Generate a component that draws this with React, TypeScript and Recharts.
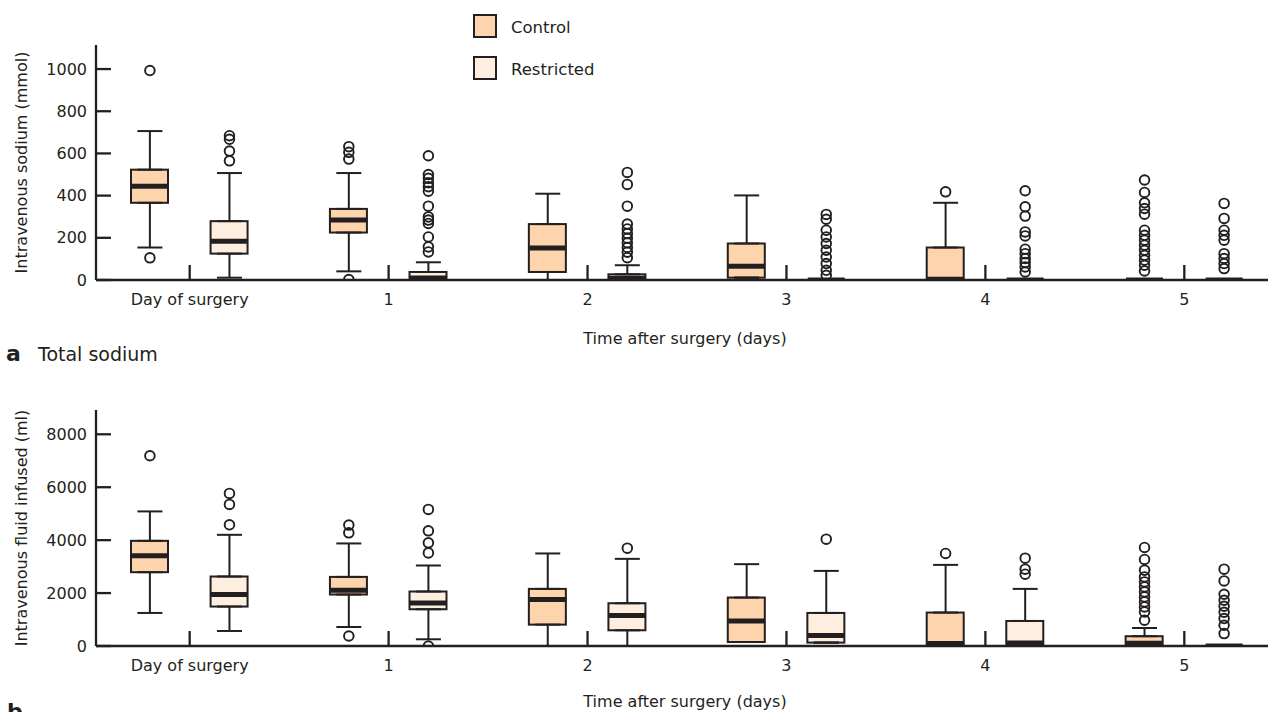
import React from "react";
import { ComposedChart, Bar, Scatter, ErrorBar, XAxis, YAxis } from "recharts";

const ink = "#231f20";
const controlFill = "#fdd4ab";
const restrictedFill = "#feeee0";

const dayLabels = ["Day of surgery", "1", "2", "3", "4", "5"];
const sodiumTicks = [0, 200, 400, 600, 800, 1000];
const fluidTicks = [0, 2000, 4000, 6000, 8000];

// panel a: intravenous sodium (mmol)
const sodiumControlLow = [154, 41, 0, 11, 0, 0];
const sodiumControlQ1 = [366, 225, 38, 11, 0, 0];
const sodiumControlMedian = [445, 284, 152, 65, 4, 0];
const sodiumControlQ3 = [523, 337, 265, 173, 154, 0];
const sodiumControlHigh = [706, 507, 409, 401, 366, 0];
const sodiumControlOutliers = [
  [993, 105],
  [632, 605, 573, 2],
  [],
  [],
  [418],
  [474, 415, 366, 339, 312, 236, 212, 189, 165, 141, 117, 94, 70, 43],
];

const sodiumRestrictedLow = [11, 0, 0, 0, 0, 0];
const sodiumRestrictedQ1 = [125, 0, 0, 0, 0, 0];
const sodiumRestrictedMedian = [184, 10, 8, 0, 0, 0];
const sodiumRestrictedQ3 = [279, 38, 27, 0, 0, 0];
const sodiumRestrictedHigh = [507, 84, 70, 0, 0, 0];
const sodiumRestrictedOutliers = [
  [684, 667, 611, 565],
  [589, 500, 482, 461, 442, 421, 350, 299, 284, 268, 204, 157, 133],
  [510, 453, 350, 265, 242, 220, 198, 176, 154, 132, 106],
  [311, 288, 236, 204, 173, 141, 109, 78, 46, 22],
  [423, 347, 303, 228, 209, 146, 125, 102, 83, 62, 38],
  [363, 292, 236, 212, 189, 125, 102, 78, 54],
];

// panel b: intravenous fluid infused (ml)
const fluidControlLow = [1249, 719, 0, 151, 0, 0];
const fluidControlQ1 = [2789, 1945, 808, 151, 0, 0];
const fluidControlMedian = [3406, 2108, 1755, 946, 90, 100];
const fluidControlQ3 = [3974, 2611, 2158, 1831, 1264, 370];
const fluidControlHigh = [5086, 3875, 3497, 3092, 3065, 681];
const fluidControlOutliers = [
  [7190],
  [4568, 4277, 378],
  [],
  [],
  [3497],
  [3724, 3270, 2865, 2611, 2422, 2233, 2043, 1854, 1665, 1476, 1287, 973],
];

const fluidRestrictedLow = [568, 254, 0, 128, 0, 0];
const fluidRestrictedQ1 = [1491, 1389, 594, 128, 0, 0];
const fluidRestrictedMedian = [1945, 1627, 1150, 394, 114, 0];
const fluidRestrictedQ3 = [2626, 2059, 1616, 1249, 946, 0];
const fluidRestrictedHigh = [4201, 3042, 3293, 2838, 2158, 0];
const fluidRestrictedOutliers = [
  [5767, 5351, 4580],
  [5162, 4352, 3898, 3519, 0],
  [3697],
  [4038],
  [3319, 2903, 2713],
  [2903, 2460, 1956, 1729, 1502, 1275, 1037, 783, 469],
];

type Stats = {
  low: number[];
  q1: number[];
  median: number[];
  q3: number[];
  high: number[];
  outliers: number[][];
};

// 5 category slots per day: control, day tick, restricted, gap, gap
const SLOTS = 28;

function buildRows(control: Stats, restricted: Stats) {
  const rows: any[] = [];
  for (let k = 0; k < SLOTS; k++) {
    const day = Math.floor(k / 5);
    const pos = k % 5;
    const s = pos === 0 ? control : pos === 2 ? restricted : null;
    const row: any = { slot: k, group: pos === 0 ? "control" : pos === 2 ? "restricted" : null };
    if (s) {
      row.box = [s.q1[day], s.q3[day]];
      row.q1 = s.q1[day];
      row.q3 = s.q3[day];
      row.median = s.median[day];
      row.upperErr = [0, s.high[day] - s.q3[day]];
      row.lowerErr = [s.q1[day] - s.low[day], 0];
      s.outliers[day].forEach((v, i) => {
        row["o" + i] = v;
      });
    }
    rows.push(row);
  }
  return rows;
}

const sodiumRows = buildRows(
  { low: sodiumControlLow, q1: sodiumControlQ1, median: sodiumControlMedian, q3: sodiumControlQ3, high: sodiumControlHigh, outliers: sodiumControlOutliers },
  { low: sodiumRestrictedLow, q1: sodiumRestrictedQ1, median: sodiumRestrictedMedian, q3: sodiumRestrictedQ3, high: sodiumRestrictedHigh, outliers: sodiumRestrictedOutliers }
);
const fluidRows = buildRows(
  { low: fluidControlLow, q1: fluidControlQ1, median: fluidControlMedian, q3: fluidControlQ3, high: fluidControlHigh, outliers: fluidControlOutliers },
  { low: fluidRestrictedLow, q1: fluidRestrictedQ1, median: fluidRestrictedMedian, q3: fluidRestrictedQ3, high: fluidRestrictedHigh, outliers: fluidRestrictedOutliers }
);

const maxOutliers = Math.max(
  ...[sodiumControlOutliers, sodiumRestrictedOutliers, fluidControlOutliers, fluidRestrictedOutliers].flat().map((o) => o.length)
);
const outlierKeys = Array.from({ length: maxOutliers }, (_, i) => "o" + i);

const ok = (v: any) => typeof v === "number" && isFinite(v);

function BoxShape(props: any) {
  const { x, y, width, height, payload } = props;
  if (!payload || !payload.box || !ok(x) || !ok(y) || !ok(height)) return <g />;
  const fill = payload.group === "control" ? controlFill : restrictedFill;
  const top = height < 0 ? y + height : y;
  return <rect x={x} y={top} width={width} height={Math.abs(height)} fill={fill} stroke={ink} strokeWidth={2} />;
}

function MedianMark({ cx, cy }: any) {
  if (!ok(cx) || !ok(cy)) return <g />;
  return <line x1={cx - 18.5} x2={cx + 18.5} y1={cy} y2={cy} stroke={ink} strokeWidth={5} />;
}

function OutlierMark({ cx, cy }: any) {
  if (!ok(cx) || !ok(cy)) return <g />;
  return <circle cx={cx} cy={cy} r={4.8} fill="none" stroke={ink} strokeWidth={1.9} />;
}

const Hidden = () => <g />;

function DayTick({ x, y, payload }: any) {
  const k = Number(payload.value);
  if (k % 5 !== 1) return <g />;
  return (
    <g>
      <line x1={x} x2={x} y1={y} y2={y - 15} stroke={ink} strokeWidth={2.3} />
      <text x={x} y={y + 25} textAnchor="middle" fill={ink} fontSize={16}>
        {dayLabels[(k - 1) / 5]}
      </text>
    </g>
  );
}

function Panel({ rows, top, marginTop, domainMax, ticks, yTitle, titleOffset }: any) {
  return (
    <div style={{ position: "absolute", left: 0, top }}>
      <ComposedChart width={1268} height={350} data={rows} margin={{ top: marginTop, right: 0, bottom: 0, left: 0 }}>
        <XAxis
          dataKey="slot"
          type="category"
          interval={0}
          padding={{ left: 34, right: 24 }}
          height={70}
          tickLine={false}
          tickSize={0}
          tickMargin={0}
          tick={<DayTick />}
          axisLine={{ stroke: ink, strokeWidth: 2.3 }}
          label={{ value: "Time after surgery (days)", position: "insideBottom", offset: titleOffset, dx: 3, fill: ink, fontSize: 16 }}
        />
        <YAxis
          type="number"
          domain={[0, domainMax]}
          allowDataOverflow
          ticks={ticks}
          width={96}
          tickSize={-15}
          tickMargin={24}
          tickLine={{ stroke: ink, strokeWidth: 2.3 }}
          axisLine={{ stroke: ink, strokeWidth: 2.3 }}
          tick={{ fill: ink, fontSize: 16 }}
          label={{ value: yTitle, angle: -90, position: "insideLeft", offset: 21, style: { textAnchor: "middle" }, fill: ink, fontSize: 16 }}
        />
        <Bar dataKey="box" barSize={37} shape={<BoxShape />} isAnimationActive={false} />
        <Scatter dataKey="q3" shape={<Hidden />} isAnimationActive={false}>
          <ErrorBar dataKey="upperErr" direction="y" width={12.5} stroke={ink} strokeWidth={2} />
        </Scatter>
        <Scatter dataKey="q1" shape={<Hidden />} isAnimationActive={false}>
          <ErrorBar dataKey="lowerErr" direction="y" width={12.5} stroke={ink} strokeWidth={2} />
        </Scatter>
        <Scatter dataKey="median" shape={<MedianMark />} isAnimationActive={false} />
        {outlierKeys.map((key) => (
          <Scatter key={key} dataKey={key} shape={<OutlierMark />} isAnimationActive={false} />
        ))}
      </ComposedChart>
    </div>
  );
}

export default function App() {
  return (
    <div
      style={{
        position: "absolute",
        left: 0,
        top: 0,
        width: 1268,
        height: 712,
        overflow: "hidden",
        background: "#fff",
        fontFamily: "'DejaVu Sans', sans-serif",
        color: ink,
      }}
    >
      <Panel rows={sodiumRows} top={0} marginTop={45} domainMax={1114} ticks={sodiumTicks} yTitle="Intravenous sodium (mmol)" titleOffset={6.5} />
      <Panel rows={fluidRows} top={366} marginTop={44} domainMax={8918} ticks={fluidTicks} yTitle="Intravenous fluid infused (ml)" titleOffset={9.3} />
      <svg width={1268} height={712} style={{ position: "absolute", left: 0, top: 0, pointerEvents: "none" }}>
        <rect x={474} y={15} width={22} height={22} fill={controlFill} stroke={ink} strokeWidth={2} />
        <text x={511} y={32.5} fontSize={16.5} fill={ink}>Control</text>
        <rect x={474} y={57} width={22} height={22} fill={restrictedFill} stroke={ink} strokeWidth={2} />
        <text x={511} y={74.5} fontSize={16.5} fill={ink}>Restricted</text>
        <text x={6} y={361} fontSize={22} fontWeight="bold" fill={ink}>a</text>
        <text x={38} y={361} fontSize={19} fill={ink}>Total sodium</text>
        <text x={7} y={719} fontSize={22} fontWeight="bold" fill={ink}>b</text>
      </svg>
    </div>
  );
}
